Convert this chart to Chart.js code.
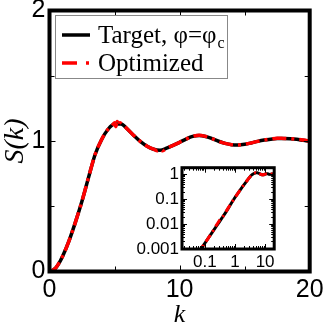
<!DOCTYPE html>
<html>
<head>
<meta charset="utf-8">
<script src="https://cdn.jsdelivr.net/npm/chart.js@4.4.0/dist/chart.umd.min.js"></script>
<style>
    html, body { margin: 0; padding: 0; background: #fff; }
    #wrap { position: relative; width: 327px; height: 323px; }
    #main { position: absolute; left: 0; top: 0; }
    #inset { position: absolute; left: 120px; top: 158px; }
</style>
</head>
<body>
<div id="wrap">
    <canvas id="main" width="327" height="323"></canvas>
    <canvas id="inset" width="162" height="112"></canvas>
</div>
<script>
// data
const kTarget = [0, 0.05, 0.07, 0.1, 0.15, 0.2, 0.3, 0.4, 0.5, 0.7, 1, 1.5, 2, 2.5, 3, 3.5, 4, 4.5, 5, 5.5,
    6, 6.5, 7, 7.5, 8, 8.5, 9, 9.5, 10, 10.5, 11, 11.5, 12, 12.5, 13, 13.5, 14, 14.5, 15, 15.5,
    16, 16.5, 17, 17.5, 18, 18.5, 19, 19.5, 20];
const sTarget = [0, 0.0005, 0.0009, 0.0017, 0.0035, 0.0058, 0.012, 0.02, 0.03, 0.058, 0.115, 0.235, 0.38, 0.54, 0.72, 0.895, 1.01, 1.09, 1.13, 1.13,
    1.09, 1.04, 0.995, 0.96, 0.937, 0.93, 0.945, 0.967, 0.99, 1.015, 1.035, 1.042, 1.035, 1.018, 0.998, 0.982, 0.972, 0.97, 0.975, 0.985,
    0.997, 1.007, 1.014, 1.019, 1.02, 1.018, 1.013, 1.005, 0.998];

const kOptimized = [0, 0.05, 0.07, 0.1, 0.15, 0.2, 0.25, 0.3, 0.4, 0.5, 0.7, 1, 1.5, 2, 2.5, 3, 3.5, 4, 4.5, 4.8,
    5.0, 5.1, 5.2, 5.3, 5.4, 5.6, 6, 6.5, 7, 7.5, 8, 8.3, 8.5, 8.7, 9, 9.5, 10, 10.5, 11, 11.5,
    12, 12.5, 13, 13.5, 14, 14.5, 15, 15.5, 16, 16.5, 17, 17.5, 18, 18.5, 19, 19.5, 20];
const sOptimized = [0, 0.0005, 0.0009, 0.0017, 0.0035, 0.006, 0.0095, 0.0135, 0.02, 0.031, 0.06, 0.115, 0.235, 0.38, 0.54, 0.72, 0.895, 1.01, 1.09, 1.115,
    1.14, 1.11, 1.15, 1.12, 1.14, 1.125, 1.09, 1.04, 0.995, 0.96, 0.937, 0.925, 0.937, 0.925, 0.945, 0.967, 0.99, 1.015, 1.035, 1.045,
    1.035, 1.018, 0.998, 0.982, 0.972, 0.97, 0.975, 0.985, 0.997, 1.007, 1.014, 1.022, 1.02, 1.018, 1.013, 1.008, 0.998];

const seriesLabels = ['Target, φ=φ_c', 'Optimized'];

const mainXTicks = [0, 10, 20];
const mainXMinor = [5, 15];
const mainYTicks = [0, 1, 2];
const mainYMinor = [0.5, 1.5];
const insetXTicks = [0.1, 1, 10];
const insetYTicks = [0.001, 0.01, 0.1, 1];

const toPoints = (ks, ss) => ks.map((k, i) => ({ x: k, y: ss[i] }));
const positive = (pts) => pts.filter(p => p.x > 0 && p.y > 0);

// minor ticks for the log axes: 2..9 in every decade
const logMinor = (min, max) => {
    const out = [];
    for (let d = Math.floor(Math.log10(min)); d <= Math.ceil(Math.log10(max)); d++) {
        for (let m = 2; m <= 9; m++) {
            const v = m * Math.pow(10, d);
            if (v > min && v < max) out.push(v);
        }
    }
    return out;
};

// inward ticks on all four sides + thick frame
const frameTicks = {
    id: 'frameTicks',
    afterDatasetsDraw(chart, args, o) {
        const { ctx, chartArea: a, scales: { x, y } } = chart;
        ctx.save();
        ctx.strokeStyle = '#000';
        ctx.lineWidth = 1;
        const xt = (vals, len) => vals.forEach(v => {
            const p = Math.round(x.getPixelForValue(v)) + 0.5;
            ctx.beginPath();
            ctx.moveTo(p, a.bottom); ctx.lineTo(p, a.bottom - len);
            ctx.moveTo(p, a.top); ctx.lineTo(p, a.top + len);
            ctx.stroke();
        });
        const yt = (vals, len) => vals.forEach(v => {
            const p = Math.round(y.getPixelForValue(v)) + 0.5;
            ctx.beginPath();
            ctx.moveTo(a.left, p); ctx.lineTo(a.left + len, p);
            ctx.moveTo(a.right, p); ctx.lineTo(a.right - len, p);
            ctx.stroke();
        });
        xt(o.xMajor, o.major); xt(o.xMinor, o.minor);
        yt(o.yMajor, o.major); yt(o.yMinor, o.minor);
        ctx.lineWidth = o.frame;
        ctx.strokeRect(a.left, a.top, a.width, a.height);
        ctx.restore();
    }
};

// legend box inside the plot, label text "_c" becomes a subscript
const boxLegend = {
    id: 'boxLegend',
    afterDraw(chart) {
        const ctx = chart.ctx;
        const bx = 55, by = 15, bw = 172, bh = 63;
        ctx.save();
        ctx.fillStyle = '#fff';
        ctx.fillRect(bx, by, bw, bh);
        ctx.strokeStyle = '#888';
        ctx.lineWidth = 1;
        ctx.strokeRect(bx + 0.5, by + 0.5, bw, bh);
        const rows = [35, 63];
        seriesLabels.forEach((label, i) => {
            const ds = chart.data.datasets.find(d => d.label === label);
            const cy = rows[i];
            ctx.strokeStyle = ds.borderColor;
            ctx.lineWidth = 3.5;
            ctx.setLineDash(i === 0 ? [] : [15, 9, 3, 20]);
            ctx.beginPath();
            ctx.moveTo(62, cy); ctx.lineTo(90, cy);
            ctx.stroke();
            ctx.setLineDash([]);
            const [main, sub] = label.split('_');
            ctx.fillStyle = '#000';
            ctx.textBaseline = 'alphabetic';
            ctx.font = '25px "Liberation Serif", "Times New Roman", serif';
            ctx.fillText(main, 98, cy + 8);
            if (sub) {
                const w = ctx.measureText(main).width;
                ctx.font = '16px "Liberation Serif", "Times New Roman", serif';
                ctx.fillText(sub, 98 + w + 1, cy + 13);
            }
        });
        ctx.restore();
    }
};

const zeroPad = (s) => { s.paddingTop = 0; s.paddingBottom = 0; s.paddingLeft = 0; s.paddingRight = 0; };

const insetXMin = 0.0175, insetXMax = 20, insetYMin = 0.001, insetYMax = 1.8;

const draw = () => {
    new Chart(document.getElementById('main'), {
        type: 'line',
        data: {
            datasets: [{
                label: seriesLabels[0],
                data: toPoints(kTarget, sTarget),
                borderColor: '#000',
                borderWidth: 3.5,
                pointRadius: 0,
                cubicInterpolationMode: 'monotone',
                order: 2
            }, {
                label: seriesLabels[1],
                data: toPoints(kOptimized, sOptimized),
                borderColor: '#ff0000',
                borderWidth: 3.5,
                borderDash: [14, 5, 3, 5],
                pointRadius: 0,
                cubicInterpolationMode: 'monotone',
                order: 1
            }]
        },
        options: {
            responsive: false,
            animation: false,
            layout: { padding: { top: 10.5, right: 17.3, left: 0, bottom: 0 } },
            plugins: {
                legend: { display: false },
                tooltip: { enabled: false },
                frameTicks: { xMajor: mainXTicks, xMinor: mainXMinor, yMajor: mainYTicks, yMinor: mainYMinor, major: 6, minor: 5, frame: 4 }
            },
            scales: {
                x: {
                    type: 'linear',
                    min: 0,
                    max: 20,
                    afterBuildTicks: (s) => { s.ticks = mainXTicks.map(v => ({ value: v })); },
                    afterFit: (s) => { s.height = 51.5; zeroPad(s); },
                    grid: { display: false, drawTicks: false },
                    border: { display: false },
                    ticks: { color: '#000', padding: 4, maxRotation: 0, font: { family: 'Liberation Sans', size: 25 } },
                    title: { display: true, text: 'k', color: '#000', padding: { top: 0, bottom: -8 }, font: { family: 'Liberation Serif', style: 'italic', size: 26 } }
                },
                y: {
                    min: 0,
                    max: 2,
                    afterBuildTicks: (s) => { s.ticks = mainYTicks.map(v => ({ value: v })); },
                    afterFit: (s) => { s.width = 49.5; zeroPad(s); },
                    grid: { display: false, drawTicks: false },
                    border: { display: false },
                    ticks: { color: '#000', padding: 4, font: { family: 'Liberation Sans', size: 25 } },
                    title: { display: true, text: 'S(k)', color: '#000', padding: { top: -1, bottom: 0 }, font: { family: 'Liberation Serif', style: 'italic', size: 28 } }
                }
            }
        },
        plugins: [frameTicks, boxLegend]
    });

    new Chart(document.getElementById('inset'), {
        type: 'line',
        data: {
            datasets: [{
                label: seriesLabels[0],
                data: positive(toPoints(kTarget, sTarget)),
                borderColor: '#000',
                borderWidth: 3,
                pointRadius: 0,
                cubicInterpolationMode: 'monotone',
                order: 2
            }, {
                label: seriesLabels[1],
                data: positive(toPoints(kOptimized, sOptimized)),
                borderColor: '#ff0000',
                borderWidth: 3,
                borderDash: [8, 4, 2, 4],
                pointRadius: 0,
                cubicInterpolationMode: 'monotone',
                order: 1
            }]
        },
        options: {
            responsive: false,
            animation: false,
            layout: { padding: { top: 9.7, right: 7.8, left: 0, bottom: 0 } },
            plugins: {
                legend: { display: false },
                tooltip: { enabled: false },
                frameTicks: {
                    xMajor: insetXTicks, xMinor: logMinor(insetXMin, insetXMax),
                    yMajor: insetYTicks, yMinor: logMinor(insetYMin, insetYMax),
                    major: 5, minor: 3, frame: 3
                }
            },
            scales: {
                x: {
                    type: 'logarithmic',
                    min: insetXMin,
                    max: insetXMax,
                    afterBuildTicks: (s) => { s.ticks = insetXTicks.map(v => ({ value: v })); },
                    afterFit: (s) => { s.height = 21; zeroPad(s); },
                    grid: { display: false, drawTicks: false },
                    border: { display: false },
                    ticks: { color: '#000', padding: 3, maxRotation: 0, callback: (v) => String(v), font: { family: 'Liberation Sans', size: 17 } }
                },
                y: {
                    type: 'logarithmic',
                    min: insetYMin,
                    max: insetYMax,
                    afterBuildTicks: (s) => { s.ticks = insetYTicks.map(v => ({ value: v })); },
                    afterFit: (s) => { s.width = 62; zeroPad(s); },
                    grid: { display: false, drawTicks: false },
                    border: { display: false },
                    ticks: { color: '#000', padding: 3, callback: (v) => String(v), font: { family: 'Liberation Sans', size: 17 } }
                }
            }
        },
        plugins: [frameTicks]
    });
};

Promise.all([
    document.fonts.load('25px "Liberation Serif"'),
    document.fonts.load('italic 26px "Liberation Serif"'),
    document.fonts.load('25px "Liberation Sans"')
]).then(draw, draw);
</script>
</body>
</html>
